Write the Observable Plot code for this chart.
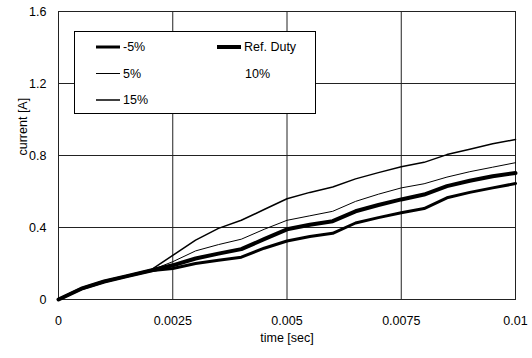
<!DOCTYPE html>
<html>
<head>
<meta charset="utf-8">
<script src="https://cdn.jsdelivr.net/npm/d3@7"></script>
<script src="https://cdn.jsdelivr.net/npm/@observablehq/plot@0.6"></script>
<style>
  html, body { margin: 0; padding: 0; background: #fff; }
  #chart { width: 532px; height: 358px; }
</style>
</head>
<body>
<div id="chart"></div>
<script>
const time = [0, 0.0005, 0.001, 0.0015, 0.002, 0.0025, 0.003, 0.0035, 0.004, 0.0045, 0.005, 0.0055, 0.006, 0.0065, 0.007, 0.0075, 0.008, 0.0085, 0.009, 0.0095, 0.01];
const minus5 = [0, 0.06, 0.10, 0.13, 0.16, 0.172, 0.200, 0.218, 0.235, 0.285, 0.325, 0.350, 0.368, 0.425, 0.455, 0.482, 0.505, 0.565, 0.595, 0.620, 0.644];
const refDuty = [0, 0.06, 0.10, 0.13, 0.16, 0.190, 0.228, 0.255, 0.280, 0.335, 0.390, 0.415, 0.435, 0.490, 0.525, 0.556, 0.583, 0.630, 0.660, 0.685, 0.703];
const plus5 = [0, 0.06, 0.10, 0.13, 0.16, 0.210, 0.270, 0.305, 0.335, 0.390, 0.440, 0.465, 0.490, 0.545, 0.585, 0.620, 0.643, 0.680, 0.710, 0.735, 0.760];
const plus15 = [0, 0.06, 0.10, 0.13, 0.16, 0.245, 0.330, 0.395, 0.440, 0.500, 0.560, 0.595, 0.625, 0.670, 0.705, 0.737, 0.762, 0.805, 0.835, 0.865, 0.889];

const xTicks = [0, 0.0025, 0.005, 0.0075, 0.01];
const xTickLabels = ["0", "0.0025", "0.005", "0.0075", "0.01"];
const yTicks = [0, 0.4, 0.8, 1.2, 1.6];
const yTickLabels = ["0", "0.4", "0.8", "1.2", "1.6"];

const seriesNames = ["-5%", "Ref. Duty", "5%", "10%", "15%"];
const seriesValues = [minus5, refDuty, plus5, null, plus15];
const seriesWidths = [3, 4, 1, 0, 1.5];

const rows = [];
seriesNames.forEach((name, i) => {
  if (!seriesValues[i]) return;
  time.forEach((t, j) => rows.push({series: name, t, v: seriesValues[i][j]}));
});

const font = "'Liberation Sans', Arial, sans-serif";

const lineMarks = seriesNames.map((name, i) => seriesValues[i]
  ? Plot.line(rows.filter(d => d.series === name), {x: "t", y: "v", stroke: "#000", strokeWidth: seriesWidths[i], strokeLinejoin: "round"})
  : null).filter(Boolean);

const chart = Plot.plot({
  width: 532,
  height: 358,
  marginLeft: 58,
  marginRight: 17,
  marginTop: 11,
  marginBottom: 59,
  style: {fontFamily: font, fontSize: "12.5px", color: "#000", background: "#fff"},
  x: {domain: [0, 0.01], ticks: xTicks, tickFormat: (d, i) => xTickLabels[xTicks.indexOf(d)], label: null},
  y: {domain: [0, 1.6], ticks: yTicks, tickFormat: d => yTickLabels[yTicks.indexOf(d)], label: null},
  marks: [
    Plot.gridX(xTicks, {stroke: "#222", strokeOpacity: 1, strokeWidth: 1}),
    Plot.gridY(yTicks, {stroke: "#222", strokeOpacity: 1, strokeWidth: 1}),
    Plot.frame({stroke: "#222", strokeWidth: 1}),
    ...lineMarks,
    Plot.axisX(xTicks, {tickSize: 0, tickPadding: 17, tickFormat: d => xTickLabels[xTicks.indexOf(d)], label: null, fontSize: 12.5}),
    Plot.axisY(yTicks, {tickSize: 0, tickPadding: 12, tickFormat: d => yTickLabels[yTicks.indexOf(d)], label: null, fontSize: 12.5}),
    Plot.text(["time [sec]"], {frameAnchor: "bottom", dy: 42, fontSize: 12.5}),
    Plot.text(["current [A]"], {frameAnchor: "left", dx: -36, rotate: -90, fontSize: 12.5})
  ]
});
document.getElementById("chart").appendChild(chart);

// Legend box
const svg = d3.select(chart);
const lg = svg.append("g").attr("font-family", font).attr("font-size", 12.5).attr("text-anchor", "start");
lg.append("rect").attr("x", 74.5).attr("y", 31.5).attr("width", 241).attr("height", 82)
  .attr("fill", "#fff").attr("stroke", "#000").attr("stroke-width", 1);
const legendPos = [[96, 47], [217, 47], [96, 73.5], [217, 73.5], [96, 100]];
seriesNames.forEach((name, i) => {
  const [x, y] = legendPos[i];
  if (seriesWidths[i] > 0) {
    lg.append("line").attr("x1", x).attr("x2", x + 24).attr("y1", y).attr("y2", y)
      .attr("stroke", "#000").attr("stroke-width", seriesWidths[i]);
  }
  lg.append("text").attr("x", i === 3 ? x + 28 : x + 27).attr("y", y).attr("dy", "0.35em")
    .attr("text-anchor", "start").text(name);
});
</script>
</body>
</html>
